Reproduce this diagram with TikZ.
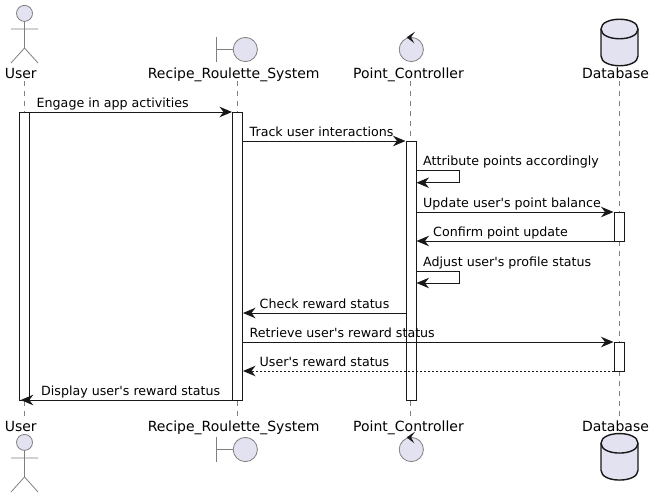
\documentclass[tikz,border=0pt]{standalone}
\usepackage{fontspec}
\setmainfont[Ligatures=TeXOff]{DejaVu Sans}
\usetikzlibrary{arrows.meta}
\definecolor{partfill}{HTML}{E2E2F0}
\definecolor{ink}{HTML}{181818}
\definecolor{iconline}{HTML}{7F7F7F}
\tikzset{
  lifeline/.style={draw=iconline,line width=.8pt,dash pattern=on 5pt off 5pt},
  bar/.style={draw=ink,fill=white,line width=1pt,minimum width=10pt,inner sep=0pt},
  msg/.style={draw=ink,line width=1pt,-{Stealth[length=12.5pt,width=10.5pt,inset=4pt]}},
  msgtext/.style={font=\fontsize{12.65}{15}\selectfont,text=black,anchor=base west,inner sep=0pt},
  parttext/.style={font=\fontsize{14}{16}\selectfont,text=black,anchor=base,inner sep=0pt},
  icon/.style={draw=iconline,line width=.8pt,fill=partfill},
  iconline/.style={draw=iconline,line width=.8pt},
  iconbold/.style={draw=ink,line width=1.4pt,fill=partfill}
}
\begin{document}
\begin{tikzpicture}[x=1pt,y=-1pt]
  \useasboundingbox (0,0) rectangle (655,498);

  % lifelines
  \coordinate (usrA) at (24.5,81);  \coordinate (usrB) at (24.5,417);
  \coordinate (sysA) at (237.5,81); \coordinate (sysB) at (237.5,417);
  \coordinate (ptcA) at (410.5,81); \coordinate (ptcB) at (410.5,417);
  \coordinate (dbA)  at (619.5,81); \coordinate (dbB)  at (619.5,417);
  \foreach \who in {usr,sys,ptc,db}
    \draw[lifeline] (\who A) -- (\who B);

  % names, top and bottom
  \foreach \base/\tag in {78/T,431/B} {
    \node[parttext] (usr\tag) at (20.8,\base)  {User};
    \node[parttext] (sys\tag) at (233.7,\base) {Recipe\_Roulette\_System};
    \node[parttext] (ptc\tag) at (408.5,\base) {Point\_Controller};
    \node[parttext] (db\tag)  at (615.5,\base) {Database};
  }

  % actor
  \foreach \off in {0,429} {
    \draw[icon] (24.5,13.4+\off) circle (8);
    \draw[iconline] (24.5,21.4+\off) -- (24.5,48+\off)
      (11,29+\off) -- (38,29+\off)
      (11,63+\off) -- (24.5,48+\off) -- (38,63+\off);
  }

  % boundary and control
  \foreach \off in {0,400} {
    \draw[iconline] (216.7,37.3+\off) -- (216.7,61.7+\off)
      (216.7,49.5+\off) -- (233.3,49.5+\off);
    \draw[icon] (245.3,49.5+\off) circle (12.1);
    \draw[icon] (411.3,49.5+\off) circle (12.1);
    \fill[ink] (415,31.7+\off) -- (406.7,37.3+\off) -- (414.3,43.3+\off)
      -- (411,37.3+\off) -- cycle;
  }

  % database
  \foreach \off in {0,414.3} {
    \draw[iconbold] (601,29+\off) .. controls (601,16+\off) and (638,16+\off) .. (638,29+\off)
      -- (638,56+\off) .. controls (638,69+\off) and (601,69+\off) .. (601,56+\off) -- cycle;
    \draw[draw=ink,line width=1.4pt] (601,29+\off) .. controls (601,42+\off) and (638,42+\off) .. (638,29+\off);
  }

  % activations
  \node[bar,minimum height=288pt] (usrBar) at (24.5,256) {};
  \node[bar,minimum height=288pt] (sysBar) at (237.5,256) {};
  \node[bar,minimum height=259pt] (ptcBar) at (411,270.5) {};
  \node[bar,minimum height=29pt] (dbBarA) at (619,226.5) {};
  \node[bar,minimum height=29pt] (dbBarB) at (619,356.5) {};

  % messages to the right
  \foreach \from/\to/\y/\txt in {
    usrBar/sysBar/112/Engage in app activities,
    sysBar/ptcBar/141/Track user interactions,
    ptcBar/dbBarA/212/Update user's point balance,
    sysBar/dbBarB/342/Retrieve user's reward status} {
    \draw[msg] (\from.east |- 0,\y) -- (\to.west |- 0,\y);
    \node[msgtext] (lab\y) at ([xshift=6.5pt]\from.east |- 0,\y-5) {\txt};
  }

  % messages to the left
  \foreach \from/\to/\y/\txt in {
    dbBarA/ptcBar/241/Confirm point update,
    ptcBar/sysBar/313/Check reward status} {
    \draw[msg] (\from.west |- 0,\y) -- (\to.east |- 0,\y);
    \node[msgtext] (lab\y) at ([xshift=16.5pt]\to.east |- 0,\y-5) {\txt};
  }
  \draw[msg,dash pattern=on 2pt off 2pt] (dbBarB.west |- 0,371) -- (sysBar.east |- 0,371);
  \node[msgtext] (lab371) at ([xshift=16.5pt]sysBar.east |- 0,366) {User's reward status};
  \draw[msg] (sysBar.west |- 0,400) -- (usrB |- 0,400);
  \node[msgtext] (lab400) at (41,395) {Display user's reward status};

  % messages to itself
  \foreach \y/\txt in {170.7/Attribute points accordingly,271/Adjust user's profile status} {
    \draw[msg] (ptcBar.east |- 0,\y) -- ++(43,0) -- ++(0,12) -- (ptcBar.east |- 0,\y+12);
    \node[msgtext] (lab\y) at ([xshift=6.5pt]ptcBar.east |- 0,\y-5) {\txt};
  }
\end{tikzpicture}
\end{document}
